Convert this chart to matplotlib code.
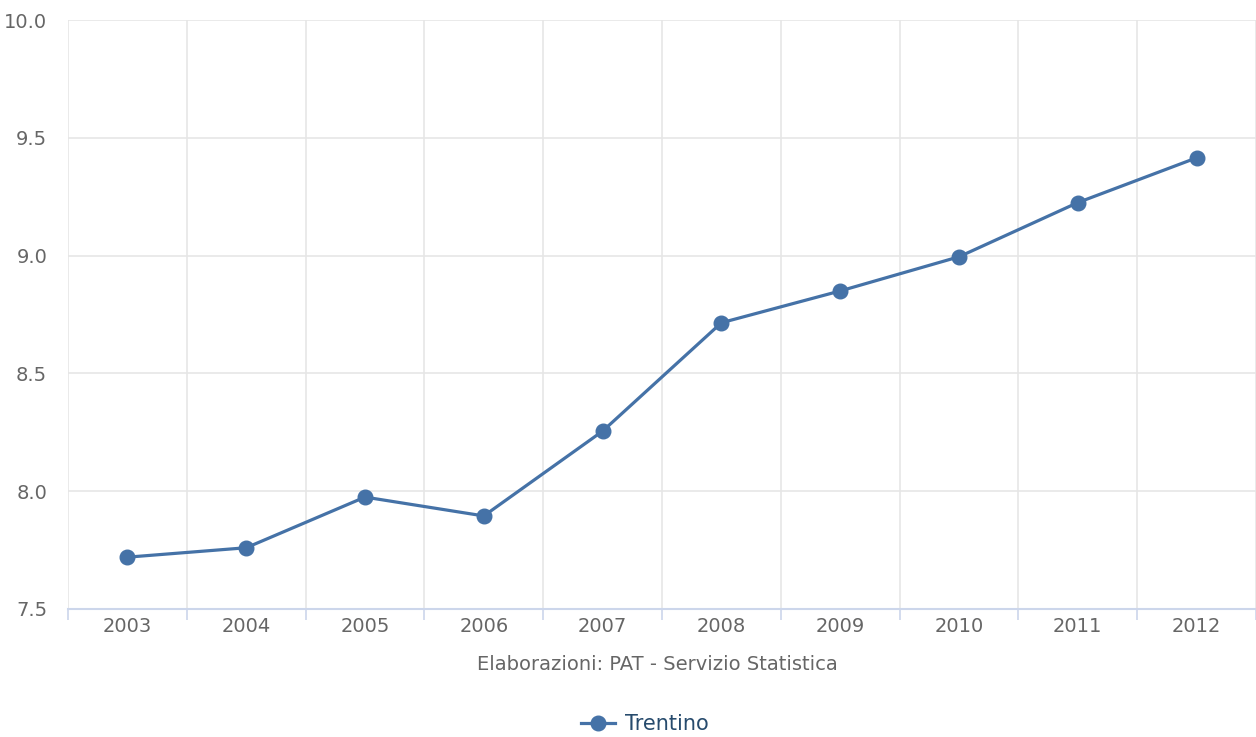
import matplotlib
matplotlib.use('Agg')
import matplotlib.pyplot as plt
from matplotlib.lines import Line2D

# dati
anni = ['2003', '2004', '2005', '2006', '2007', '2008', '2009', '2010', '2011', '2012']
trentino = [7.72, 7.76, 7.975, 7.895, 8.255, 8.715, 8.85, 8.995, 9.225, 9.415]
y_ticks = [7.5, 8.0, 8.5, 9.0, 9.5, 10.0]

colore = '#4572A7'
grigio = '#666666'

fig = plt.figure(figsize=(12.56, 7.37), dpi=100)
ax = fig.add_axes([68 / 1256, 128 / 737, 1188 / 1256, 589 / 737])

x = list(range(len(anni)))
ax.plot(x, trentino, color=colore, lw=2.3, marker='o', ms=10.5, zorder=3)

ax.set_xlim(-0.5, len(anni) - 0.5)
ax.set_ylim(7.5, 10.0)
ax.set_xticks(x)
ax.set_xticklabels(anni)
ax.set_xticks([i - 0.5 for i in range(len(anni) + 1)], minor=True)
ax.set_yticks(y_ticks)
ax.set_yticklabels(['%.1f' % v for v in y_ticks])

# griglia
ax.grid(True, axis='y', color='#e6e6e6', lw=1.2)
ax.grid(True, axis='x', which='minor', color='#e6e6e6', lw=1.2)
ax.set_axisbelow(True)

for s in ['top', 'right', 'left']:
    ax.spines[s].set_visible(False)
ax.spines['bottom'].set_color('#ccd6eb')
ax.spines['bottom'].set_linewidth(1.5)

ax.tick_params(axis='x', which='major', length=0, labelsize=14, labelcolor=grigio, pad=6)
ax.tick_params(axis='x', which='minor', length=8, color='#ccd6eb', width=1.2, direction='out')
ax.tick_params(axis='y', length=0, labelsize=14, labelcolor=grigio, pad=15)

fig.text(657 / 1256, 1 - 665 / 737, 'Elaborazioni: PAT - Servizio Statistica',
         ha='center', va='center', fontsize=14, color=grigio)

simbolo = Line2D([], [], color=colore, lw=2.3, marker='o', ms=10.5)
fig.legend(handles=[simbolo], labels=['Trentino'], loc='center',
           bbox_to_anchor=(645 / 1256, 1 - 724 / 737), frameon=False,
           fontsize=15, labelcolor='#274b6d', handlelength=1.6, handletextpad=0.5)

fig.savefig('out.png', dpi=100)
